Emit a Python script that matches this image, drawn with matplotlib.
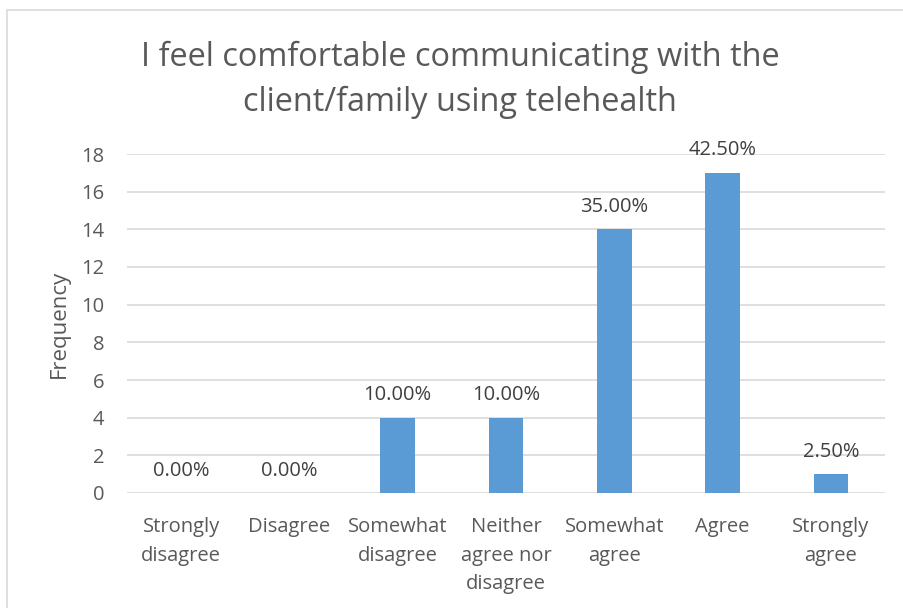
import matplotlib.pyplot as plt
from matplotlib.patches import Rectangle

categories = ["Strongly\ndisagree", "Disagree", "Somewhat\ndisagree",
              "Neither\nagree nor\ndisagree", "Somewhat\nagree", "Agree",
              "Strongly\nagree"]
frequency = [0, 0, 4, 4, 14, 17, 1]
percent_labels = ["0.00%", "0.00%", "10.00%", "10.00%", "35.00%", "42.50%", "2.50%"]
yticks = [0, 2, 4, 6, 8, 10, 12, 14, 16, 18]

plt.rcParams['font.family'] = ['Open Sans', 'DejaVu Sans']
text_col = '#595959'
grid_col = '#D9D9D9'

W, H = 904, 608
fig = plt.figure(figsize=(W / 100, H / 100), dpi=100)

# outer chart frame (runs off the right and bottom edges)
fig.patches.append(Rectangle((7 / W, -0.05), 1.0, 1.05 - 10 / H,
                             transform=fig.transFigure, fill=False,
                             edgecolor=grid_col, linewidth=1.2))

ax = fig.add_axes([127 / W, 1 - 493 / H, (885 - 127) / W, (493 - 154) / H])
x = range(len(categories))
ax.bar(x, frequency, width=0.32, color='#5B9BD5', zorder=3)
for i, (v, lab) in enumerate(zip(frequency, percent_labels)):
    ax.annotate(lab, (i, v), xytext=(0, 9), textcoords='offset points',
                ha='center', va='bottom', fontsize=14.5, color='#404040')

ax.set_xlim(-0.5, len(categories) - 0.5)
ax.set_ylim(0, 18)
ax.set_yticks(yticks)
ax.set_xticks(list(x))
ax.set_xticklabels(categories, fontsize=14.5, color=text_col, linespacing=1.55)
ax.tick_params(axis='y', labelsize=14.5, colors=text_col, length=0, pad=16.5)
ax.tick_params(axis='x', length=0, pad=17.5)
ax.grid(axis='y', color=grid_col, linewidth=1.2, zorder=0)
for s in ax.spines.values():
    s.set_visible(False)
ax.set_ylabel("Frequency", fontsize=16, color=text_col, labelpad=8)

fig.text(460 / W, 1 - 57 / H, "I feel comfortable communicating with the",
         ha='center', va='center', fontsize=23.4, color=text_col)
fig.text(460 / W, 1 - 102 / H, "client/family using telehealth",
         ha='center', va='center', fontsize=23.4, color=text_col)

fig.savefig("out.png", dpi=100)
